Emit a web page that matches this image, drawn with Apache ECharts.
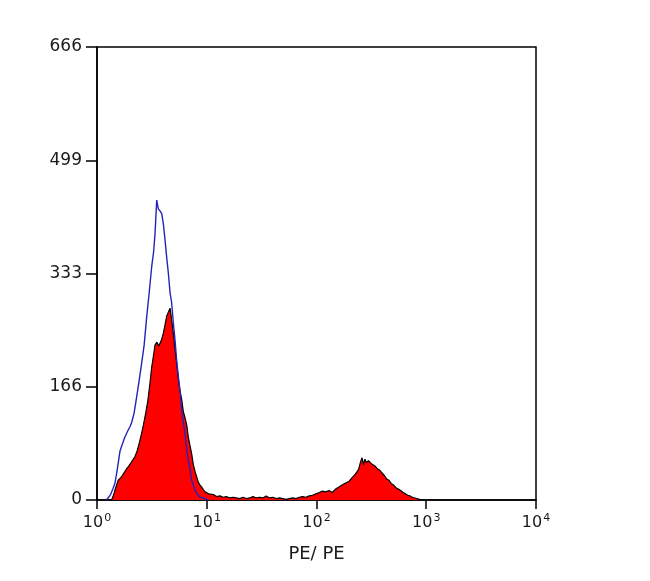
<!DOCTYPE html>
<html><head><meta charset="utf-8">
<script src="https://cdn.jsdelivr.net/npm/echarts@6/dist/echarts.min.js"></script>
<style>html,body{margin:0;padding:0;background:#fff}#c{width:650px;height:581px}</style>
</head><body><div id="c"></div>
<script>
const yTicks = [0, 166, 333, 499, 666];
const xTitle = 'PE/ PE';
const redX = [1.36,1.42,1.48,1.56,1.63,1.70,1.78,1.86,1.93,2.01,2.10,2.22,2.32,2.43,2.55,2.66,2.78,2.90,3.04,3.15,3.26,3.38,3.52,3.65,3.75,3.88,4.02,4.17,4.31,4.47,4.63,4.79,4.96,5.14,5.32,5.51,5.71,5.91,6.12,6.34,6.57,6.80,7.04,7.29,7.55,7.82,8.10,8.39,8.69,9.00,9.32,9.65,10.0,10.4,10.8,11.5,12.3,13.2,14.1,15.1,16.2,17.4,18.6,20.0,21.4,23.0,24.6,26.4,28.3,30.3,32.5,34.8,37.3,40.0,42.9,46.0,49.3,52.8,56.6,60.7,65.0,69.7,74.7,80.1,85.8,92.0,98.6,106,113,121,130,139,149,160,171,184,197,211,226,242,252,260,268,276,285,297,310,324,341,358,376,395,415,436,458,481,505,530,557,585,615,646,678,712,748,786,825,866,910];
const redY = [0,8,18,29,32,36,41,46,49,53,58,64,72,84,98,112,128,145,172,195,211,228,232,226,225,236,245,258,270,268,282,265,245,222,201,178,160,148,130,121,110,92,80,68,52,42,34,26,22,19,15,12,11,9,7,8,5,6,4,5,3,4,3,2,4,2,3,5,3,4,3,6,3,4,2,3,2,1,2,3,2,4,5,4,6,7,9,11,13,12,14,11,16,19,22,25,27,33,38,45,56,62,52,60,55,58,55,52,50,46,44,40,36,31,29,24,22,18,16,14,11,9,7,6,4,3,2,1,0];
const blueX = [1.22,1.27,1.33,1.40,1.46,1.53,1.62,1.70,1.80,1.90,2.00,2.07,2.18,2.30,2.42,2.55,2.69,2.84,2.99,3.15,3.28,3.38,3.50,3.62,3.75,3.89,4.03,4.17,4.32,4.47,4.63,4.79,4.96,5.14,5.32,5.51,5.71,5.91,6.11,6.34,6.57,6.79,7.04,7.29,7.54,7.82,8.10,8.37,8.69,9.00,9.64,10.3];
const blueY = [0,2,8,17,25,45,72,82,93,101,108,114,128,152,175,201,228,270,305,343,365,392,441,428,425,421,405,382,356,333,305,290,260,235,205,181,160,132,115,97,73,58,45,29,22,14,10,7,4,3,2,0];

const redData = redX.map((x, i) => [x, redY[i]]);
const blueData = blueX.map((x, i) => [x, blueY[i]]);
const font = 'DejaVu Sans, sans-serif';

const chart = echarts.init(document.getElementById('c'), null, {renderer: 'canvas'});
chart.setOption({
  animation: false,
  backgroundColor: '#fff',
  grid: {left: 97, right: 114, top: 47, bottom: 81, show: true, borderColor: '#000', borderWidth: 1.5, containLabel: false},
  xAxis: {
    type: 'log', logBase: 10, min: 1, max: 10000,
    name: xTitle, nameLocation: 'middle', nameGap: 45,
    nameTextStyle: {fontFamily: font, fontSize: 18, color: '#1a1a1a'},
    axisLine: {lineStyle: {color: '#000', width: 1.5}},
    axisTick: {show: true, inside: false, length: 9, lineStyle: {color: '#000', width: 1.5}},
    minorTick: {show: false},
    splitLine: {show: false},
    axisLabel: {
      margin: 13, color: '#1a1a1a', fontFamily: font,
      formatter: v => '{b|10}{s|' + Math.round(Math.log10(v)) + '}',
      rich: {
        b: {fontSize: 16, fontFamily: font, color: '#1a1a1a', verticalAlign: 'bottom'},
        s: {fontSize: 11, fontFamily: font, color: '#1a1a1a', verticalAlign: 'top', padding: [0, 0, 7, 1]}
      }
    }
  },
  yAxis: {
    type: 'value', min: 0, max: 666, interval: 166.5,
    axisLine: {show: true, lineStyle: {color: '#000', width: 1.5}},
    axisTick: {show: true, inside: false, length: 11, lineStyle: {color: '#000', width: 1.5}},
    splitLine: {show: false},
    axisLabel: {
      margin: 15, color: '#1a1a1a', fontFamily: font, fontSize: 17,
      formatter: v => String(yTicks[Math.round(v / 166.5)])
    }
  },
  series: [
    {
      type: 'line', data: redData, symbol: 'none',
      lineStyle: {color: '#000', width: 1.2},
      areaStyle: {color: '#ff0000', opacity: 1},
      z: 2
    },
    {
      type: 'line', data: blueData, symbol: 'none',
      lineStyle: {color: '#2323b8', width: 1.4},
      z: 3
    }
  ]
});
</script>
</body></html>
